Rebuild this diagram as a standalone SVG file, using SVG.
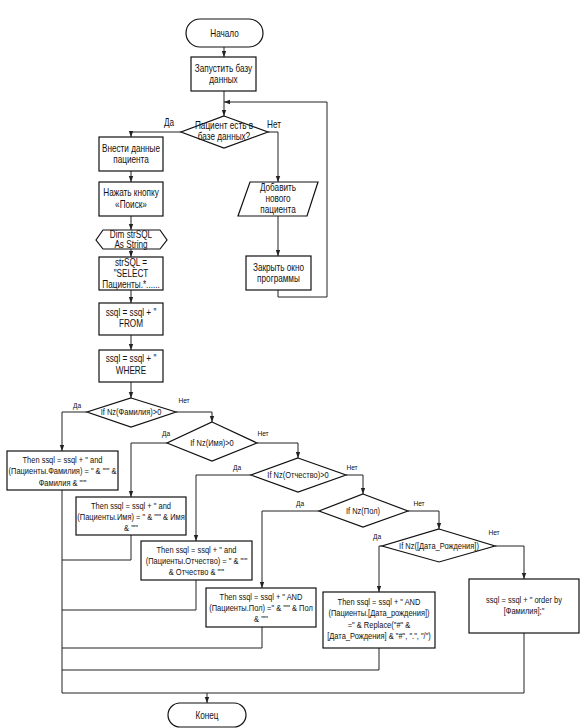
<svg xmlns="http://www.w3.org/2000/svg" width="585" height="728" viewBox="0 0 585 728">
<defs>
<marker id="ah" markerUnits="userSpaceOnUse" markerWidth="6" markerHeight="6" viewBox="0 0 6 6" refX="6" refY="3" orient="auto">
<path d="M0,0.8 L6,3 L0,5.2 Z" fill="#222"/>
</marker>
<style>
.ln{fill:none;stroke:#222;stroke-width:1}
.ar{marker-end:url(#ah)}
.bx{fill:#fff;stroke:#111;stroke-width:1.2}
.t{font-family:"Liberation Sans",Arial,sans-serif;font-size:10px;fill:#111;text-anchor:middle}
.s{font-family:"Liberation Sans",Arial,sans-serif;font-size:8.5px;fill:#111;text-anchor:middle}
.l{font-family:"Liberation Sans",Arial,sans-serif;font-size:10px;fill:#111;text-anchor:middle}
.ls{font-family:"Liberation Sans",Arial,sans-serif;font-size:7.5px;fill:#111;text-anchor:middle}
</style>
</defs>
<rect width="585" height="728" fill="#fff"/>
<g id="connectors">
<path class="ln ar" d="M224,47 V57"/>
<path class="ln ar" d="M224,91 V116"/>
<path class="ln ar" d="M278,290 V297 H327 V102 H224"/>
<path class="ln ar" d="M181,132 H131 V137"/>
<path class="ln ar" d="M131,171 V182"/>
<path class="ln ar" d="M131,216 V230"/>
<path class="ln ar" d="M131,249 V257"/>
<path class="ln ar" d="M131,290 V303"/>
<path class="ln ar" d="M131,335 V350"/>
<path class="ln ar" d="M131,382 V398"/>
<path class="ln ar" d="M268,132 H278 V182"/>
<path class="ln ar" d="M278,216 V256"/>
<path class="ln ar" d="M87,412 H62 V451"/>
<path class="ln ar" d="M176,412 H212 V422"/>
<path class="ln ar" d="M167,443 H131 V497"/>
<path class="ln ar" d="M257,443 H298 V458"/>
<path class="ln ar" d="M251,475 H196 V541"/>
<path class="ln ar" d="M346,475 H363 V494"/>
<path class="ln ar" d="M319,511 H262 V588"/>
<path class="ln ar" d="M408,511 H439 V529"/>
<path class="ln ar" d="M382,546 H379 V592"/>
<path class="ln ar" d="M495,546 H524 V579"/>
<path class="ln" d="M62,490 V693"/>
<path class="ln" d="M131,535 V560 H62"/>
<path class="ln" d="M196,580 V610 H62"/>
<path class="ln" d="M262,627 V648 H62"/>
<path class="ln" d="M379,648 V670 H62"/>
<path class="ln" d="M524,633 V693 H62"/>
<path class="ln ar" d="M207,693 V703"/>
<text class="l" transform="translate(169,125.5) scale(0.82,1)">Да</text>
<text class="l" transform="translate(274,127.5) scale(0.82,1)">Нет</text>
<text class="ls" transform="translate(77,408) scale(0.88,1)">Да</text>
<text class="ls" transform="translate(184,403) scale(0.88,1)">Нет</text>
<text class="ls" transform="translate(166,436) scale(0.88,1)">Да</text>
<text class="ls" transform="translate(263,436) scale(0.88,1)">Нет</text>
<text class="ls" transform="translate(237,470) scale(0.88,1)">Да</text>
<text class="ls" transform="translate(352,470) scale(0.88,1)">Нет</text>
<text class="ls" transform="translate(300,506) scale(0.88,1)">Да</text>
<text class="ls" transform="translate(419,506) scale(0.88,1)">Нет</text>
<text class="ls" transform="translate(377,539) scale(0.88,1)">Да</text>
<text class="ls" transform="translate(494,535) scale(0.88,1)">Нет</text>
</g>
<g id="start">
<rect class="bx" x="186" y="19" width="77" height="28" rx="14"/>
<text class="t" transform="translate(224.5,36.5) scale(0.82,1)">Начало</text>
</g>
<g id="launch_db">
<rect class="bx" x="191" y="57" width="65" height="34"/>
<text class="t" transform="translate(223.5,71.5) scale(0.82,1)"><tspan x="0" y="0">Запустить базу</tspan><tspan x="0" y="12">данных</tspan></text>
</g>
<g id="decision_patient">
<polygon class="bx" points="224,116 268,132 224,148 181,132"/>
<text class="t" transform="translate(224,129) scale(0.82,1)"><tspan x="0" y="0">Пациент есть в</tspan><tspan x="0" y="11">базе данных?</tspan></text>
</g>
<g id="enter_data">
<rect class="bx" x="99" y="137" width="64" height="34"/>
<text class="t" transform="translate(131,151.5) scale(0.82,1)"><tspan x="0" y="0">Внести данные</tspan><tspan x="0" y="12">пациента</tspan></text>
</g>
<g id="press_search">
<rect class="bx" x="99" y="182" width="64" height="34"/>
<text class="t" transform="translate(131,196) scale(0.82,1)"><tspan x="0" y="0">Нажать кнопку</tspan><tspan x="0" y="12">«Поиск»</tspan></text>
</g>
<g id="dim_strsql">
<polygon class="bx" points="96,240 103,230 160,230 167,240 160,249 103,249"/>
<text class="t" transform="translate(131,237.5) scale(0.82,1)"><tspan x="0" y="0">Dim strSQL</tspan><tspan x="0" y="10.5">As String</tspan></text>
</g>
<g id="strsql_select">
<rect class="bx" x="99" y="257" width="64" height="33"/>
<text class="t" transform="translate(131,265.5) scale(0.82,1)"><tspan x="0" y="0">strSQL =</tspan><tspan x="0" y="11.5">"SELECT</tspan><tspan x="0" y="23">Пациенты.*......</tspan></text>
</g>
<g id="ssql_from">
<rect class="bx" x="99" y="303" width="64" height="32"/>
<text class="t" transform="translate(131,315.5) scale(0.82,1)"><tspan x="0" y="0">ssql = ssql + "</tspan><tspan x="0" y="12">FROM</tspan></text>
</g>
<g id="ssql_where">
<rect class="bx" x="99" y="350" width="64" height="32"/>
<text class="t" transform="translate(131,362) scale(0.82,1)"><tspan x="0" y="0">ssql = ssql + "</tspan><tspan x="0" y="12">WHERE</tspan></text>
</g>
<g id="add_patient">
<polygon class="bx" points="250,182 318,182 307,216 238,216"/>
<text class="t" transform="translate(278,190.5) scale(0.82,1)"><tspan x="0" y="0">Добавить</tspan><tspan x="0" y="11.5">нового</tspan><tspan x="0" y="23">пациента</tspan></text>
</g>
<g id="close_program">
<rect class="bx" x="246" y="256" width="65" height="34"/>
<text class="t" transform="translate(278.5,270.5) scale(0.82,1)"><tspan x="0" y="0">Закрыть окно</tspan><tspan x="0" y="12">программы</tspan></text>
</g>
<g id="if_familia">
<polygon class="bx" points="131,398 176,412 131,427 87,412"/>
<text class="s" transform="translate(131,415) scale(0.88,1)">If Nz(Фамилия)&gt;0</text>
</g>
<g id="then_familia">
<rect class="bx" x="7" y="451" width="111" height="39"/>
<text class="s" transform="translate(62.5,463) scale(0.88,1)"><tspan x="0" y="0">Then ssql = ssql + " and</tspan><tspan x="0" y="11.5">(Пациенты.Фамилия) = " &amp; "'" &amp;</tspan><tspan x="0" y="23">Фамилия &amp; "'"</tspan></text>
</g>
<g id="if_imya">
<polygon class="bx" points="212,422 257,443 212,461 167,443"/>
<text class="s" transform="translate(212,446) scale(0.88,1)">If Nz(Имя)&gt;0</text>
</g>
<g id="then_imya">
<rect class="bx" x="76" y="497" width="110" height="38"/>
<text class="s" transform="translate(131,508.5) scale(0.88,1)"><tspan x="0" y="0">Then ssql = ssql + " and</tspan><tspan x="0" y="11.5">(Пациенты.Имя) = " &amp; "'" &amp; Имя</tspan><tspan x="0" y="23">&amp; "'"</tspan></text>
</g>
<g id="if_otchestvo">
<polygon class="bx" points="298,458 346,475 298,492 251,475"/>
<text class="s" transform="translate(298,478) scale(0.88,1)">If Nz(Отчество)&gt;0</text>
</g>
<g id="then_otchestvo">
<rect class="bx" x="141" y="541" width="111" height="39"/>
<text class="s" transform="translate(196.5,552.5) scale(0.88,1)"><tspan x="0" y="0">Then ssql = ssql + " and</tspan><tspan x="0" y="11.5">(Пациенты.Отчество) = " &amp; "'"</tspan><tspan x="0" y="23">&amp; Отчество &amp; "'"</tspan></text>
</g>
<g id="if_pol">
<polygon class="bx" points="363,494 408,511 363,527 319,511"/>
<text class="s" transform="translate(363,514) scale(0.88,1)">If Nz(Пол)</text>
</g>
<g id="then_pol">
<rect class="bx" x="206" y="588" width="110" height="39"/>
<text class="s" transform="translate(261,599.5) scale(0.88,1)"><tspan x="0" y="0">Then ssql = ssql + " AND</tspan><tspan x="0" y="11.5">(Пациенты.Пол) =" &amp; "'" &amp; Пол</tspan><tspan x="0" y="23">&amp; "'"</tspan></text>
</g>
<g id="if_birth">
<polygon class="bx" points="439,529 495,546 439,562 382,546"/>
<text class="s" transform="translate(439,549) scale(0.88,1)">If Nz([Дата_Рождения])</text>
</g>
<g id="then_birth">
<rect class="bx" x="323" y="592" width="112" height="56"/>
<text class="s" transform="translate(379,605) scale(0.88,1)"><tspan x="0" y="0">Then ssql = ssql + " AND</tspan><tspan x="0" y="11.5">(Пациенты.[Дата_рождения])</tspan><tspan x="0" y="23">=" &amp; Replace("#" &amp;</tspan><tspan x="0" y="34.5">[Дата_Рождения] &amp; "#", ".", "/")</tspan></text>
</g>
<g id="order_by">
<rect class="bx" x="469" y="579" width="110" height="54"/>
<text class="s" transform="translate(524,603) scale(0.88,1)"><tspan x="0" y="0">ssql = ssql + " order by</tspan><tspan x="0" y="11.5">[Фамилия];"</tspan></text>
</g>
<g id="end">
<rect class="bx" x="168" y="703" width="78" height="24" rx="12"/>
<text class="t" transform="translate(207,718.5) scale(0.82,1)">Конец</text>
</g>
</svg>
